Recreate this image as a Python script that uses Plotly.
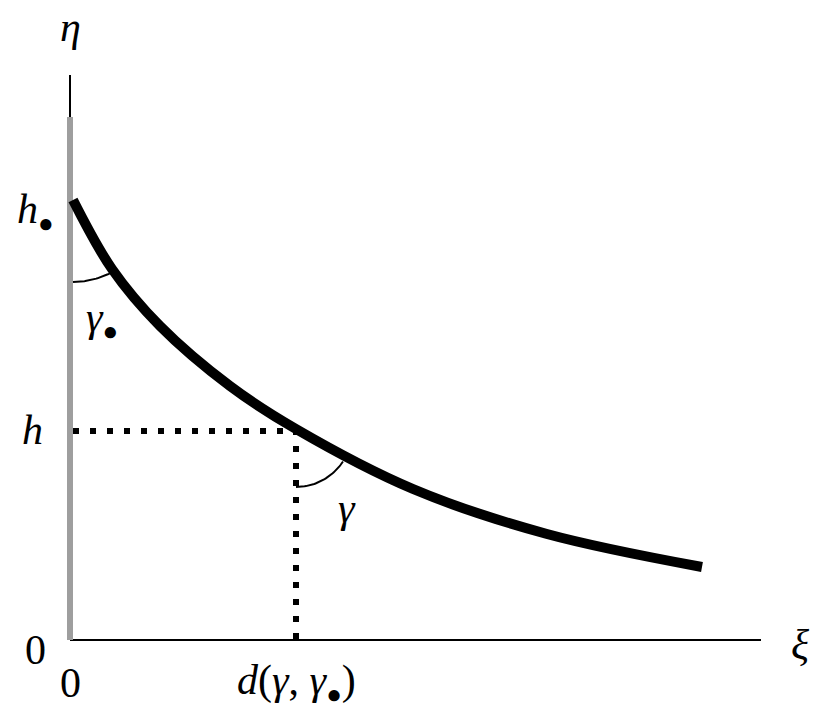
import numpy as np
import plotly.graph_objects as go

# curve eta(xi) (origin at the axes corner)
xi = [3, 42, 90, 160, 226, 343, 477, 632]
eta = [440, 371, 314, 254, 211, 151, 106, 73]

# axis extents and marked values
xi_max = 691
eta_max = 565
gray_top = 523
d_val = 226
h_val = 209

# angle marks: (center xi, center eta, radius, end angle in degrees)
arcs = [(3, 440, 82, -62.0), (226, 209, 56, -33.0)]

serif = "Liberation Serif"
dot = "<span style='font-size:26px'>●</span>"

fig = go.Figure()

# axes
fig.add_trace(go.Scatter(x=[0, xi_max], y=[0, 0], mode="lines",
                         line=dict(color="black", width=2)))
fig.add_trace(go.Scatter(x=[0, 0], y=[0, eta_max], mode="lines",
                         line=dict(color="black", width=2)))
fig.add_trace(go.Scatter(x=[0, 0], y=[0, gray_top], mode="lines",
                         line=dict(color="#9e9e9e", width=6)))

# dotted guides
fig.add_trace(go.Scatter(x=[xi[0], d_val, d_val], y=[h_val, h_val, 0], mode="lines",
                         line=dict(color="black", width=6, dash="6px,11px")))

# main curve
fig.add_trace(go.Scatter(x=xi, y=eta, mode="lines", line_shape="spline",
                         line=dict(color="black", width=10)))

# angle arcs
for cx, cy, r, a_end in arcs:
    t = np.radians(np.linspace(-90, a_end, 40))
    fig.add_trace(go.Scatter(x=cx + r * np.cos(t), y=cy + r * np.sin(t), mode="lines",
                             line=dict(color="black", width=2)))

labels = [
    (0, 613, "<i>η</i>", "center"),
    (-14, 428, "<i>h</i><sub>" + dot + "</sub>", "right"),
    (32, 320, "<i>γ</i><sub>" + dot + "</sub>", "center"),
    (-25, 210, "<i>h</i>", "right"),
    (-22, -10, "0", "right"),
    (0, -43, "0", "center"),
    (730, -5, "<i>ξ</i>", "center"),
    (277, 132, "<i>γ</i>", "center"),
    (226, -43, "<i>d</i>(<i>γ</i>, <i>γ</i><sub>" + dot + "</sub>)", "center"),
]
for x, y, txt, anchor in labels:
    fig.add_annotation(x=x, y=y, text=txt, showarrow=False, xanchor=anchor,
                       yanchor="middle", font=dict(family=serif, size=42, color="black"))

fig.update_layout(
    width=823, height=713,
    margin=dict(l=0, r=0, t=0, b=0),
    plot_bgcolor="white", paper_bgcolor="white",
    showlegend=False,
    xaxis=dict(range=[-70, 753], visible=False, fixedrange=True),
    yaxis=dict(range=[-73, 640], visible=False, fixedrange=True),
)

fig.write_html("out.html", config={"displayModeBar": False},
               post_script="document.body.style.margin='0px';")
